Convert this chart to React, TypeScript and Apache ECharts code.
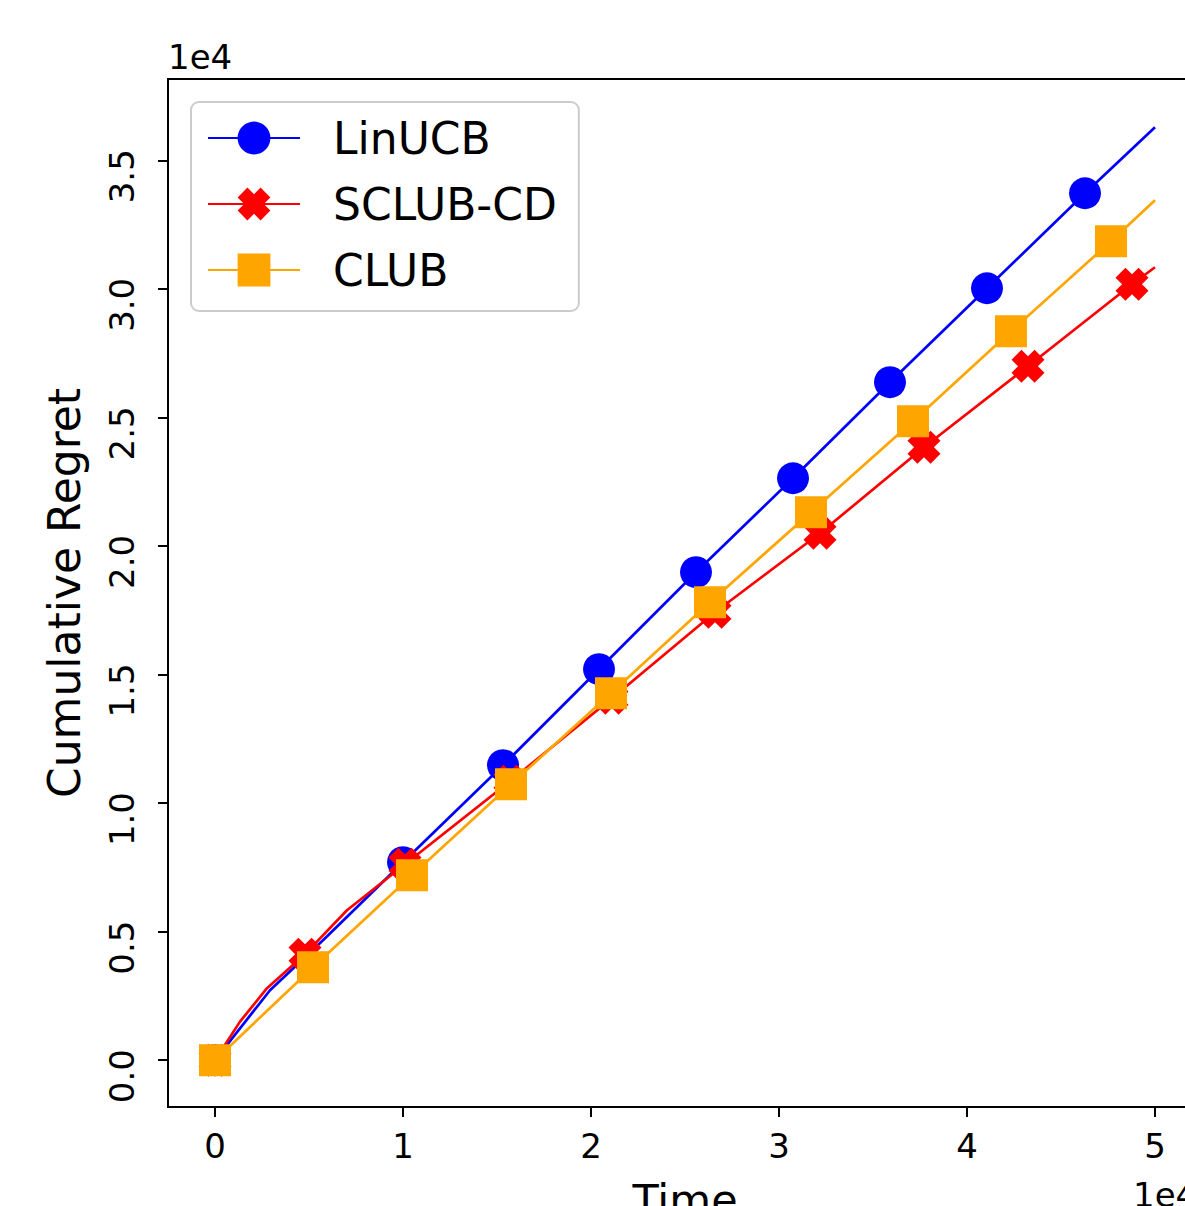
import React, { useEffect, useRef } from "react";
import * as echarts from "echarts";

const FONT = "'DejaVu Sans', sans-serif";

// Time values and cumulative regret
const linucbX = [0, 2926, 5745, 10000, 15319, 20426, 25585, 30745, 35904, 41064, 46277, 50000];
const linucbY = [0, 2722, 4667, 7700, 11472, 15206, 18978, 22633, 26367, 30022, 33717, 36283];
const linucbMarked = [true, false, false, true, true, true, true, true, true, true, true, false];

const sclubX = [0, 1330, 2766, 4787, 7021, 10106, 15691, 21117, 26596, 32181, 37713, 43245, 48777, 50000];
const sclubY = [0, 1500, 2800, 4123, 5833, 7622, 10850, 14078, 17422, 20494, 23839, 26989, 30178, 30839];
const sclubMarked = [true, false, false, true, false, true, true, true, true, true, true, true, true, false];

const clubX = [0, 5213, 10479, 15745, 21064, 26330, 31702, 37128, 42340, 47660, 50000];
const clubY = [0, 3617, 7194, 10733, 14272, 17811, 21311, 24850, 28350, 31850, 33444];
const clubMarked = [true, true, true, true, true, true, true, true, true, true, false];

const xTicks = [0, 10000, 20000, 30000, 40000, 50000];
const yTicks = [0, 5000, 10000, 15000, 20000, 25000, 30000, 35000];

const seriesNames = ["LinUCB", "SCLUB-CD", "CLUB"];
const seriesColors = ["#0000ff", "#ff0000", "#ffa500"];

const X_SYMBOL = "path://M3,0 L5,2 L7,0 L10,3 L8,5 L10,7 L7,10 L5,8 L3,10 L0,7 L2,5 L0,3 Z";

function build(xs: number[], ys: number[], marked: boolean[]) {
  return xs.map((x, i) =>
    marked[i] ? { value: [x, ys[i]] } : { value: [x, ys[i]], symbol: "none" }
  );
}

export default function App() {
  const ref = useRef<HTMLDivElement>(null);
  useEffect(() => {
    const chart = echarts.init(ref.current!, null, { renderer: "svg" });
    const mkSeries = (i: number, data: any[], symbol: string, size: number) => ({
      name: seriesNames[i],
      type: "line",
      data,
      symbol,
      symbolSize: size,
      showAllSymbol: true,
      color: seriesColors[i],
      lineStyle: { color: seriesColors[i], width: 2.7 },
      itemStyle: { color: seriesColors[i], borderWidth: 0 },
      emphasis: { disabled: true },
      z: 2 + i,
    });
    chart.setOption({
      animation: false,
      backgroundColor: "#ffffff",
      textStyle: { fontFamily: FONT },
      grid: {
        left: 168,
        top: 79,
        width: 1034,
        height: 1028,
        containLabel: false,
        outerBoundsMode: "none",
        show: true,
        borderColor: "#000000",
        borderWidth: 2,
        backgroundColor: "transparent",
      },
      xAxis: {
        type: "value",
        min: -2500,
        max: 52500,
        name: "Time",
        nameLocation: "middle",
        nameGap: 71,
        nameTextStyle: { fontSize: 43, fontFamily: FONT, color: "#000" },
        axisLine: { show: false, onZero: false },
        splitLine: { show: false },
        axisTick: {
          show: true,
          inside: false,
          length: 10,
          lineStyle: { color: "#000", width: 2 },
          customValues: xTicks,
        },
        axisLabel: {
          customValues: xTicks,
          formatter: (v: number) => String(v / 10000),
          fontSize: 34,
          fontFamily: FONT,
          color: "#000",
          margin: 22,
        },
      },
      yAxis: {
        type: "value",
        min: -1820,
        max: 38160,
        name: "Cumulative Regret",
        nameLocation: "middle",
        nameGap: 82,
        nameRotate: 90,
        nameTextStyle: { fontSize: 44, fontFamily: FONT, color: "#000" },
        axisLine: { show: false, onZero: false },
        splitLine: { show: false },
        axisTick: {
          show: true,
          inside: false,
          length: 10,
          lineStyle: { color: "#000", width: 2 },
          customValues: yTicks,
        },
        axisLabel: {
          customValues: yTicks,
          formatter: (v: number) => (v / 10000).toFixed(1),
          fontSize: 34,
          fontFamily: FONT,
          color: "#000",
          rotate: 90,
          align: "center",
          verticalAlign: "bottom",
          padding: [0, 32, 0, 0],
          margin: 29,
          hideOverlap: false,
        },
      },
      legend: {
        show: true,
        orient: "vertical",
        left: 191,
        top: 102,
        itemWidth: 92,
        itemHeight: 41,
        itemGap: 22,
        padding: [14, 22, 19, 16],
        backgroundColor: "#ffffff",
        borderColor: "#cccccc",
        borderWidth: 2,
        borderRadius: 8,
        textStyle: { fontSize: 44, fontFamily: FONT, color: "#000", padding: [0, 0, 0, 28] },
        data: seriesNames,
      },
      graphic: [
        {
          type: "text",
          x: 168,
          y: 40,
          style: { text: "1e4", fontSize: 34, fontFamily: FONT, fill: "#000", verticalAlign: "top" },
        },
        {
          type: "text",
          x: 1133,
          y: 1178,
          style: { text: "1e4", fontSize: 34, fontFamily: FONT, fill: "#000", verticalAlign: "top" },
        },
      ],
      series: [
        mkSeries(0, build(linucbX, linucbY, linucbMarked), "circle", 32),
        mkSeries(1, build(sclubX, sclubY, sclubMarked), X_SYMBOL, 33),
        mkSeries(2, build(clubX, clubY, clubMarked), "rect", 32),
      ],
    });
    return () => chart.dispose();
  }, []);
  return (
    <div
      ref={ref}
      style={{
        position: "fixed",
        left: 0,
        top: 0,
        width: 1185,
        height: 1206,
        overflow: "hidden",
        background: "#fff",
      }}
    />
  );
}
